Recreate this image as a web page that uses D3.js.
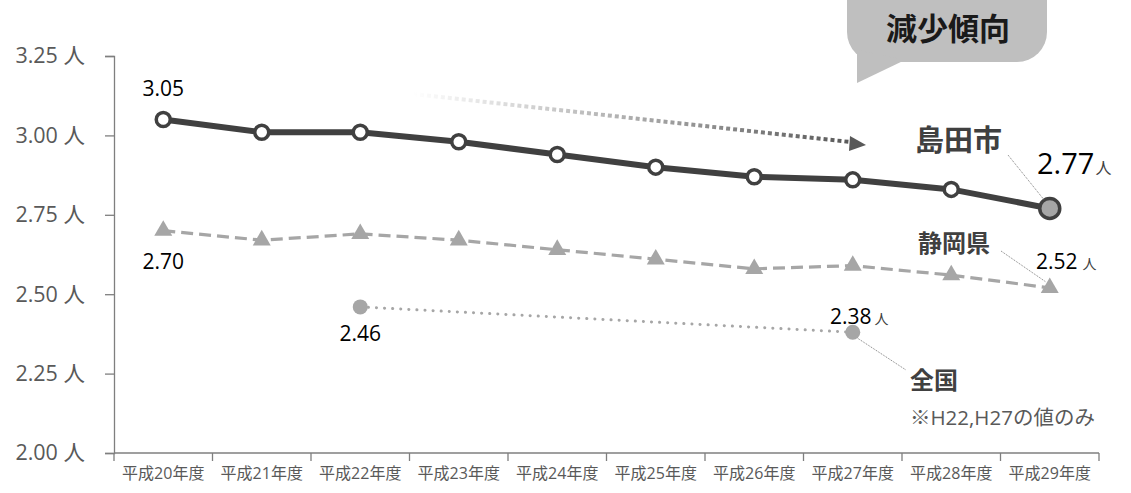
<!DOCTYPE html>
<html>
<head>
<meta charset="utf-8">
<script src="https://cdn.jsdelivr.net/npm/d3@7"></script>
<style>
body { margin: 0; background: #fff; }
text { font-family: "Open Sans", "Noto Sans CJK JP", sans-serif; }
</style>
</head>
<body>
<script>
var years = ["平成20年度", "平成21年度", "平成22年度", "平成23年度", "平成24年度",
	"平成25年度", "平成26年度", "平成27年度", "平成28年度", "平成29年度"];
var shimada = [3.05, 3.01, 3.01, 2.98, 2.94, 2.90, 2.87, 2.86, 2.83, 2.77];
var shizuoka = [2.70, 2.67, 2.69, 2.67, 2.64, 2.61, 2.58, 2.59, 2.56, 2.52];
var zenkoku = [{ year: "平成22年度", value: 2.46 }, { year: "平成27年度", value: 2.38 }];
var yTicks = [2.00, 2.25, 2.50, 2.75, 3.00, 3.25];

var width = 1131, height = 493;
var svg = d3.select("body").append("svg")
	.attr("width", width)
	.attr("height", height);

var x = d3.scaleBand().domain(years).range([114, 1099]);
var y = d3.scaleLinear().domain([2, 3.25]).range([453, 56]);
var cx = d => x(d) + x.bandwidth() / 2;

// axes
var yAxis = d3.axisLeft(y).tickValues(yTicks).tickSize(9)
	.tickFormat(d => d3.format(".2f")(d) + " 人");
var yg = svg.append("g").attr("transform", "translate(114,0)").call(yAxis);
yg.select(".domain").attr("stroke", "#7f7f7f").attr("stroke-width", 1.3);
yg.selectAll(".tick line").attr("stroke", "#7f7f7f").attr("stroke-width", 1.3);
yg.selectAll(".tick text").attr("x", -29).attr("font-size", 21.5).attr("fill", "#595959")
	.attr("font-family", "'Open Sans', 'Noto Sans CJK JP'");

svg.append("line").attr("x1", 114).attr("x2", 1099).attr("y1", 453).attr("y2", 453)
	.attr("stroke", "#7f7f7f").attr("stroke-width", 1.3);
svg.append("g").selectAll("line")
	.data(years.concat(["end"]))
	.enter().append("line")
	.attr("x1", (d, i) => 114 + i * x.step())
	.attr("x2", (d, i) => 114 + i * x.step())
	.attr("y1", 453).attr("y2", 461)
	.attr("stroke", "#7f7f7f").attr("stroke-width", 1.3);
svg.append("g").selectAll("text")
	.data(years)
	.enter().append("text")
	.attr("x", d => cx(d))
	.attr("y", 479)
	.attr("text-anchor", "middle")
	.attr("font-size", 16)
	.attr("fill", "#595959")
	.text(d => d);

// callout bubble
var bubble = svg.append("g");
bubble.append("rect").attr("x", 847).attr("y", -30).attr("width", 200).attr("height", 92)
	.attr("rx", 30).attr("fill", "#bfbfbf");
bubble.append("path").attr("d", "M857,50 L857,83 L905,60 Z").attr("fill", "#bfbfbf");
bubble.append("text").attr("x", 948).attr("y", 40).attr("text-anchor", "middle")
	.attr("font-size", 31).attr("font-weight", "bold").attr("fill", "#1a1a1a")
	.text("減少傾向");

// trend arrow
var defs = svg.append("defs");
var grad = defs.append("linearGradient").attr("id", "fade")
	.attr("gradientUnits", "userSpaceOnUse")
	.attr("x1", 413).attr("y1", 94).attr("x2", 850).attr("y2", 142);
grad.append("stop").attr("offset", "0%").attr("stop-color", "#ffffff");
grad.append("stop").attr("offset", "100%").attr("stop-color", "#595959");
svg.append("line").attr("x1", 413).attr("y1", 94).attr("x2", 850).attr("y2", 142)
	.attr("stroke", "url(#fade)").attr("stroke-width", 4).attr("stroke-dasharray", "4,3");
svg.append("path").attr("d", "M850,136 L866,145 L849,151 Z").attr("fill", "#595959");

// 全国 dotted line
svg.append("path")
	.datum(zenkoku)
	.attr("d", d3.line().x(d => cx(d.year)).y(d => y(d.value)))
	.attr("fill", "none").attr("stroke", "#a6a6a6").attr("stroke-width", 3)
	.attr("stroke-linecap", "round").attr("stroke-dasharray", "0.1,8");
svg.append("g").selectAll("circle")
	.data(zenkoku)
	.enter().append("circle")
	.attr("cx", d => cx(d.year)).attr("cy", d => y(d.value)).attr("r", 7.5)
	.attr("fill", "#a6a6a6");

// 静岡県 dashed line
svg.append("path")
	.datum(shizuoka)
	.attr("d", d3.line().x((d, i) => cx(years[i])).y(d => y(d)))
	.attr("fill", "none").attr("stroke", "#a6a6a6").attr("stroke-width", 3.2)
	.attr("stroke-dasharray", "12,6");
svg.append("g").selectAll("path")
	.data(shizuoka)
	.enter().append("path")
	.attr("transform", (d, i) => "translate(" + cx(years[i]) + "," + y(d) + ")")
	.attr("d", d3.symbol().type(d3.symbolTriangle).size(140))
	.attr("fill", "#a6a6a6");

// 島田市 solid line
svg.append("path")
	.datum(shimada)
	.attr("d", d3.line().x((d, i) => cx(years[i])).y(d => y(d)))
	.attr("fill", "none").attr("stroke", "#404040").attr("stroke-width", 6);
svg.append("g").selectAll("circle")
	.data(shimada)
	.enter().append("circle")
	.attr("cx", (d, i) => cx(years[i])).attr("cy", d => y(d))
	.attr("r", (d, i) => i == shimada.length - 1 ? 10 : 7)
	.attr("fill", (d, i) => i == shimada.length - 1 ? "#a6a6a6" : "#fff")
	.attr("stroke", "#404040").attr("stroke-width", 3.5);

// value labels
function label(tx, ty, txt, size, anchor) {
	return svg.append("text").attr("x", tx).attr("y", ty).attr("font-size", size)
		.attr("text-anchor", anchor || "start").attr("fill", "#000").text(txt);
}
label(cx(years[0]), 96, d3.format(".2f")(shimada[0]), 21, "middle");
label(cx(years[0]), 269, d3.format(".2f")(shizuoka[0]), 21, "middle");
label(cx(zenkoku[0].year), 341, d3.format(".2f")(zenkoku[0].value), 21, "middle");

var t1 = label(1037, 174, d3.format(".2f")(shimada[9]), 29);
t1.append("tspan").attr("font-size", 16).attr("fill", "#404040").attr("dx", 1).text("人");
var t2 = label(1036, 269, d3.format(".2f")(shizuoka[9]), 21);
t2.append("tspan").attr("font-size", 14).attr("fill", "#404040").attr("dx", 5).text("人");
var t3 = label(830, 324, d3.format(".2f")(zenkoku[1].value), 21);
t3.append("tspan").attr("font-size", 14).attr("fill", "#404040").attr("dx", 3).text("人");

// series names
function name(tx, ty, txt, size) {
	svg.append("text").attr("x", tx).attr("y", ty).attr("font-size", size)
		.attr("font-weight", "bold").attr("fill", "#404040").text(txt);
}
name(915, 151, "島田市", 29);
name(918, 252, "静岡県", 24);
name(910, 389, "全国", 24);
svg.append("text").attr("x", 910).attr("y", 425).attr("font-size", 20.5)
	.attr("fill", "#595959").text("※H22,H27の値のみ");

// leaders
function leader(x1, y1, x2, y2) {
	svg.append("line").attr("x1", x1).attr("y1", y1).attr("x2", x2).attr("y2", y2)
		.attr("stroke", "#7f7f7f").attr("stroke-width", 1).attr("stroke-dasharray", "1,1");
}
leader(1008, 155, cx(years[9]) - 6, y(shimada[9]) - 9);
leader(1001, 251, cx(years[9]) - 4, y(shizuoka[9]) - 6);
leader(cx(zenkoku[1].year) + 5, y(zenkoku[1].value) + 6, 906, 370);
</script>
</body>
</html>
